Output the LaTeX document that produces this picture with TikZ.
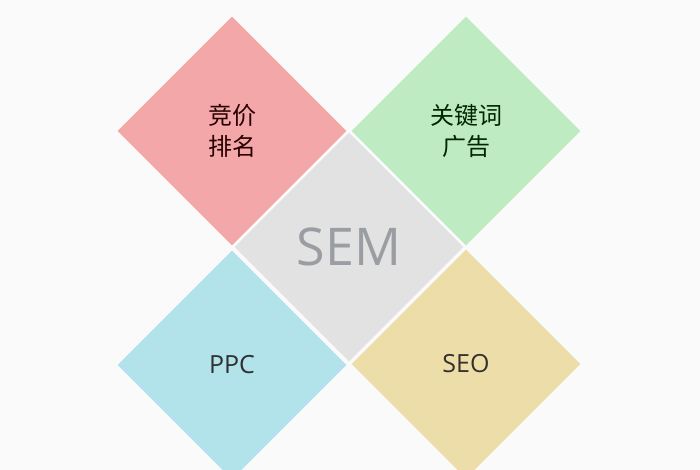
\documentclass[tikz,border=0pt]{standalone}
\usepackage{fontspec}
\setmainfont{Open Sans}
\newfontfamily\cjk{Noto Sans CJK SC}
\usetikzlibrary{shapes.geometric}
\usepackage{xcolor}
\definecolor{mbg}{HTML}{FAFAFA}
\definecolor{mpink}{HTML}{F4A7A8}
\definecolor{mgreen}{HTML}{BFEBC2}
\definecolor{mgray}{HTML}{E2E2E2}
\definecolor{mblue}{HTML}{B2E2EA}
\definecolor{myellow}{HTML}{EDDEA9}
\definecolor{msem}{HTML}{9A9EA2}
\tikzstyle{tile}=[diamond, minimum width=229pt, minimum height=229pt, inner sep=0pt, align=center]
\tikzstyle{cn}=[tile, font=\cjk\fontsize{24}{31}\selectfont]
\tikzstyle{en}=[tile, font=\fontsize{25}{30}\selectfont]

\begin{document}
\begin{tikzpicture}[x=1pt,y=-1pt]
    \useasboundingbox (0,0) rectangle (700,470);
    \clip (0,0) rectangle (700,470);
    \fill[mbg] (0,0) rectangle (700,470);
    \node[tile, fill=mgray, text=msem, font=\fontsize{52}{60}\selectfont] (sem) at (349,247) {SEM};
    \node[cn, fill=mpink, text=black!85!red] (bid) at (232,131) {竞价\\排名};
    \node[cn, fill=mgreen, text=black!85!green] (kw) at (466,131) {关键词\\广告};
    \node[en, fill=mblue, text=black!92!cyan] (ppc) at (232,365) {PPC};
    \node[en, fill=myellow, text=black!92!yellow] (seo) at (466,364) {SEO};
\end{tikzpicture}
\end{document}
